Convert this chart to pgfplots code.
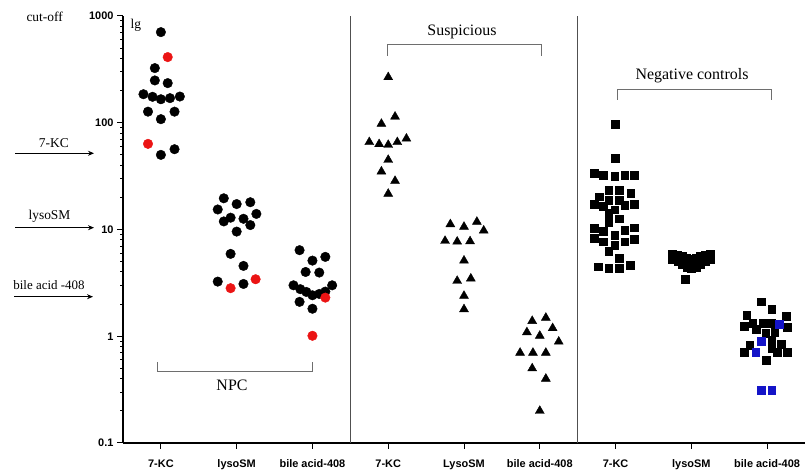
\documentclass[border=0pt]{standalone}
\usepackage{pgfplots}
\pgfplotsset{compat=1.18}
\usepackage{fontspec}
\setmainfont{Liberation Serif}
\setsansfont{Liberation Sans}
\usetikzlibrary{arrows.meta}
\definecolor{npcred}{RGB}{235,20,20}
\definecolor{ncblue}{RGB}{20,20,200}
\definecolor{sepgray}{RGB}{80,80,80}
\definecolor{brgray}{RGB}{110,110,110}
\begin{document}
\begin{tikzpicture}[x=1bp,y=1bp]
\path[use as bounding box] (0,0) rectangle (805,472);
\begin{axis}[
 at={(123bp,29bp)}, anchor=south west,
 scale only axis, width=682bp, height=427bp,
 ymode=log, ymin=0.1, ymax=1000,
 xmin=-0.5, xmax=8.5,
 axis x line*=bottom, axis y line*=left,
 axis line style={line width=1.8bp, black},
 xtick={0,...,8},
 xticklabels={7-KC,lysoSM,bile acid-408,7-KC,LysoSM,bile acid-408,7-KC,lysoSM,bile acid-408},
 ytick={0.1,1,10,100,1000}, yticklabels={0.1,1,10,100,1000},
 minor ytick={0.2,0.3,0.4,0.5,0.6,0.7,0.8,0.9,2,3,4,5,6,7,8,9,20,30,40,50,60,70,80,90,200,300,400,500,600,700,800,900},
 tick align=outside, major tick length=6bp, minor tick length=3bp,
 tick style={black, line width=1bp},
 x tick label style={font=\sffamily\bfseries\fontsize{11}{12}\selectfont, yshift=-7bp},
 y tick label style={font=\sffamily\bfseries\fontsize{11}{12}\selectfont},
 clip=false,
]
\draw[sepgray, line width=1.2bp] (axis cs:2.5,0.1) -- (axis cs:2.5,1000);
\draw[sepgray, line width=1.2bp] (axis cs:5.5,0.1) -- (axis cs:5.5,1000);
% NPC 7-KC
\addplot[only marks, mark=*, mark size=4.8, black] coordinates {
(0.00,706) (-0.08,325) (-0.08,249) (0.09,235) (-0.23,185) (-0.11,175) (0.00,166)
(0.12,170) (0.25,176) (-0.17,127) (0.18,127) (0.00,108) (0.18,56.5) (0.00,50)};
\addplot[only marks, mark=*, mark size=4.8, npcred, mark options={draw=npcred}] coordinates {
(0.09,412) (-0.17,63.4)};
% NPC lysoSM
\addplot[only marks, mark=*, mark size=4.8, black] coordinates {
(0.83,19.6) (1.00,17.3) (1.18,18.0) (0.75,15.4) (1.26,14.0) (0.83,11.9) (0.92,12.9)
(1.09,12.6) (1.18,11.0) (1.00,9.56) (0.92,5.91) (1.09,4.56) (0.75,3.25) (1.09,3.09)};
\addplot[only marks, mark=*, mark size=4.8, npcred, mark options={draw=npcred}] coordinates {
(0.92,2.82) (1.25,3.42)};
% NPC bile acid
\addplot[only marks, mark=*, mark size=4.8, black] coordinates {
(1.83,6.40) (2.00,5.11) (2.17,5.54) (1.91,4.0) (2.09,3.95) (1.75,3.0) (1.84,2.76)
(1.92,2.60) (2.00,2.42) (2.09,2.49) (2.17,2.62) (2.26,3.0) (1.83,2.10) (2.00,1.81)};
\addplot[only marks, mark=*, mark size=4.8, npcred, mark options={draw=npcred}] coordinates {
(2.17,2.30) (2.00,1.01)};
% Suspicious
\addplot[only marks, mark=triangle*, mark size=5.2, black] coordinates {
(3.00,267) (3.09,114) (2.91,97.7) (2.75,65.8) (2.88,63) (3.00,62) (3.12,65.8)
(3.24,71) (3.00,44.9) (2.91,34.9) (3.09,28.5) (3.00,21.6)};
\addplot[only marks, mark=triangle*, mark size=5.2, black] coordinates {
(3.82,11.2) (4.00,10.6) (4.17,11.8) (4.26,9.77) (3.75,7.82) (3.91,7.7) (4.08,7.75)
(4.00,5.11) (3.91,3.30) (4.09,3.47) (4.00,2.39) (4.00,1.79)};
\addplot[only marks, mark=triangle*, mark size=5.2, black] coordinates {
(4.90,1.39) (5.08,1.49) (4.83,1.09) (5.17,1.19) (5.00,1.01) (5.25,0.89) (4.74,0.70)
(4.91,0.70) (5.08,0.70) (4.90,0.50) (5.08,0.40) (5.00,0.20)};
% Negative controls 7-KC
\addplot[only marks, mark=square*, mark size=3.9, black] coordinates {
(6.00,97.7) (6.00,46.9) (5.72,33.7) (5.84,32.0) (5.99,31.8) (6.12,32.0) (6.25,32.5)
(5.91,23.2) (6.05,23.2) (6.20,21.9) (5.78,20.3) (5.91,18.7) (6.05,18.7) (5.72,17.4)
(5.84,16.4) (5.99,15.3) (6.12,17.0) (6.25,17.4) (5.91,14.2) (5.91,11.7) (6.05,12.6)
(5.72,10.3) (5.84,9.56) (5.99,8.90) (6.12,9.91) (6.25,10.4) (5.72,8.29) (5.84,7.70)
(5.99,7.17) (6.12,7.70) (6.25,8.17) (5.91,6.21) (6.05,5.38) (5.77,4.49) (5.91,4.34)
(6.05,4.34) (6.19,4.66)};
% Negative controls lysoSM
\addplot[only marks, mark=square*, mark size=3.9, black] coordinates {
(6.75,5.9) (6.75,5.6) (6.75,5.3) (6.82,5.75) (6.82,5.4) (6.82,5.05)
(6.88,5.6) (6.88,5.15) (6.88,4.75) (6.94,5.4) (6.94,4.9) (6.94,4.45)
(7.00,5.3) (7.00,4.8) (7.00,4.3) (7.06,5.4) (7.06,4.9) (7.06,4.45)
(7.12,5.6) (7.12,5.15) (7.12,4.75) (7.18,5.75) (7.18,5.4) (7.18,5.05)
(7.25,5.9) (7.25,5.6) (7.25,5.3) (6.92,3.42)};
% Negative controls bile acid
\addplot[only marks, mark=square*, mark size=3.9, black] coordinates {
(7.92,2.11) (8.06,1.80) (7.73,1.58) (8.25,1.53) (7.70,1.25) (7.81,1.32) (7.95,1.32)
(8.06,1.32) (8.26,1.21) (7.86,1.16) (7.98,1.07) (8.10,1.10) (8.06,0.92) (8.19,0.84)
(7.77,0.83) (8.06,0.77) (7.70,0.71) (8.13,0.71) (8.27,0.71) (7.99,0.60)};
\addplot[only marks, mark=square*, mark size=3.9, ncblue] coordinates {
(8.16,1.29) (7.92,0.90) (7.85,0.71) (7.92,0.31) (8.06,0.31)};
\end{axis}
% annotations
\node[font=\fontsize{13.5}{15}\selectfont] at (44.7,454.7) {cut-off};
\node[font=\fontsize{13.5}{15}\selectfont] at (135.8,447) {lg};
\node[font=\fontsize{13.5}{15}\selectfont] at (53.8,329) {7-KC};
\node[font=\fontsize{13.5}{15}\selectfont] at (49.5,255.3) {lysoSM};
\node[font=\fontsize{13}{15}\selectfont] at (49,187) {bile acid -408};
\draw[-{Stealth[length=6bp,width=5bp]}, line width=0.8bp] (15,318.7) -- (94,318.7);
\draw[-{Stealth[length=6bp,width=5bp]}, line width=0.8bp] (15,244.3) -- (94,244.3);
\draw[-{Stealth[length=6bp,width=5bp]}, line width=0.8bp] (14,175.3) -- (93,175.3);
% brackets
\draw[brgray, line width=0.8bp] (157,110) -- (157,101) -- (312,101) -- (312,110);
\node[font=\fontsize{16}{18}\selectfont] at (232,87) {NPC};
\draw[brgray, line width=0.8bp] (387,416) -- (387,428) -- (541,428) -- (541,416);
\node[font=\fontsize{16}{18}\selectfont] at (462,440) {Suspicious};
\draw[brgray, line width=0.8bp] (617,372) -- (617,383) -- (771,383) -- (771,372);
\node[font=\fontsize{16}{18}\selectfont] at (692,396) {Negative controls};
\end{tikzpicture}
\end{document}
